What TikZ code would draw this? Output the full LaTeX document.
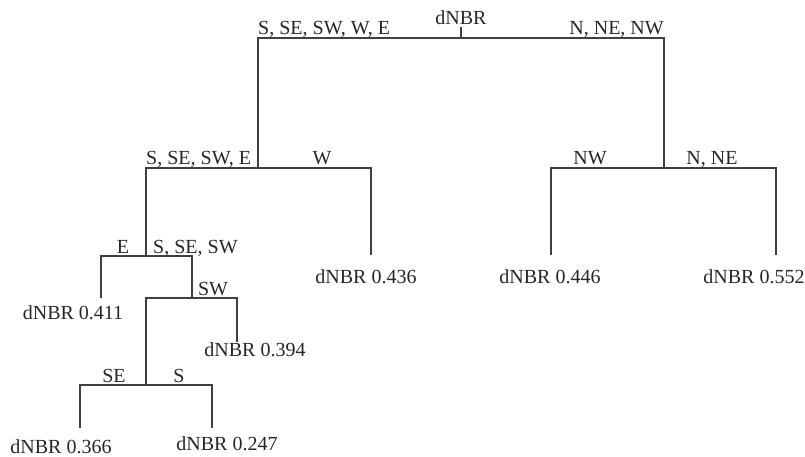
\documentclass[tikz,border=0pt]{standalone}
\usepackage{fontspec}
\setmainfont{Liberation Serif}
\begin{document}
\begin{tikzpicture}[x=1pt,y=-1pt,
  lbl/.style={anchor=base,inner sep=2pt,font=\fontsize{20}{23}\selectfont,text=black!85},
  tree/.style={draw=black!75,line width=1.3pt}]
\useasboundingbox (0,0) rectangle (805,457);
% split points
\coordinate (n0) at (461,38);
\coordinate (nL) at (258,168);
\coordinate (nR) at (664,168);
\coordinate (nLL) at (146,256);
\coordinate (nLLR) at (192,298);
\coordinate (nLLRL) at (146,385);
% leaf ends
\coordinate (lW) at (371,255);
\coordinate (lNW) at (551,255);
\coordinate (lNNE) at (776,255);
\coordinate (lE) at (101,298);
\coordinate (lSW) at (237,342);
\coordinate (lSE) at (80,428);
\coordinate (lS) at (212,428);
% root label
\node[lbl] (root) at (461,25) {dNBR};
% branch labels
\node[lbl,anchor=base west,inner sep=0pt] (b1) at (258,35) {S, SE, SW, W, E};
\node[lbl,anchor=base east,inner sep=0pt] (b2) at (664,35) {N, NE, NW};
\node[lbl,anchor=base west,inner sep=0pt] (b3) at (146,165) {S, SE, SW, E};
\node[lbl] (b4) at (322,165) {W};
\node[lbl] (b5) at (590,165) {NW};
\node[lbl] (b6) at (712,165) {N, NE};
\node[lbl] (b7) at (123,253) {E};
\node[lbl,anchor=base west,inner sep=0pt] (b8) at (153,253) {S, SE, SW};
\node[lbl] (b9) at (213,295) {SW};
\node[lbl] (b10) at (114,382) {SE};
\node[lbl] (b11) at (179,382) {S};
% leaf labels
\node[lbl] (v1) at (366,283) {dNBR 0.436};
\node[lbl] (v2) at (550,283) {dNBR 0.446};
\node[lbl] (v3) at (754,283) {dNBR 0.552};
\node[lbl] (v4) at (73,319) {dNBR 0.411};
\node[lbl] (v5) at (255,356) {dNBR 0.394};
\node[lbl,inner sep=0pt] (v6) at (61,453) {dNBR 0.366};
\node[lbl] (v7) at (227,450) {dNBR 0.247};
% tree
\draw[tree] (root.south) -- (n0);
\draw[tree] (nL) |- (n0) -| (nR);
\draw[tree] (nLL) |- (nL) -| (lW);
\draw[tree] (lNW) |- (nR) -| (lNNE);
\draw[tree] (lE) |- (nLL) -| (nLLR);
\draw[tree] (nLLRL) |- (nLLR) -| (lSW);
\draw[tree] (lSE) |- (nLLRL) -| (lS);
\end{tikzpicture}
\end{document}
